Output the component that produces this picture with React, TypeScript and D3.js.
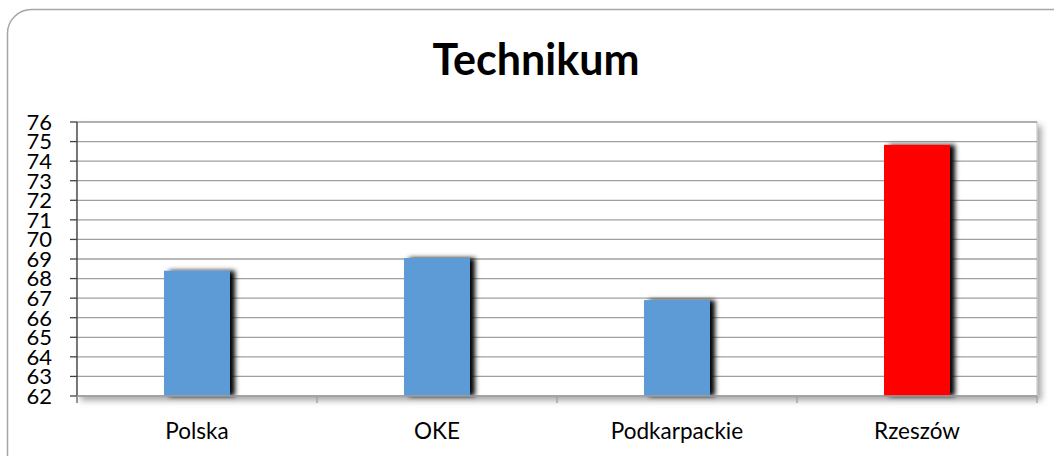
import React from "react";
import * as d3 from "d3";

const categories = ["Polska", "OKE", "Podkarpackie", "Rzeszów"];
const values = [68.4, 69.05, 66.9, 74.83];
const barColors = ["#5b9bd5", "#5b9bd5", "#5b9bd5", "#ff0000"];
const yTicks = [62, 63, 64, 65, 66, 67, 68, 69, 70, 71, 72, 73, 74, 75, 76];
const title = "Technikum";

const W = 1054;
const H = 456;
const plot = { left: 77, right: 1037, top: 122, bottom: 396 };

export default function App() {
  const x = d3
    .scaleBand<string>()
    .domain(categories)
    .range([plot.left, plot.right])
    .paddingInner(0)
    .paddingOuter(0);
  const y = d3.scaleLinear().domain([62, 76]).range([plot.bottom, plot.top]);
  const barW = x.bandwidth() * 0.275;
  const font = "Lato, 'Open Sans', sans-serif";
  const boundaries = [...categories.map((c) => x(c) as number), plot.right];

  return (
    <svg
      width={W}
      height={H}
      style={{ position: "absolute", left: 0, top: 0, display: "block" }}
    >
      <defs>
        <filter id="barShadow" x="-30%" y="-10%" width="160%" height="120%">
          <feDropShadow dx="5" dy="0" stdDeviation="2.5" floodColor="#000" floodOpacity="1" />
        </filter>
        <filter id="plotShadow" x="-5%" y="-5%" width="110%" height="115%">
          <feDropShadow dx="4" dy="4" stdDeviation="3" floodColor="#000" floodOpacity="0.35" />
        </filter>
      </defs>
      <rect x={0} y={0} width={W} height={H} fill="#fff" />
      <rect
        x={7.5}
        y={9.5}
        width={1070}
        height={470}
        rx={24}
        ry={24}
        fill="#fff"
        stroke="#a6a6a6"
        strokeWidth={1.5}
      />
      <text
        x={536}
        y={75}
        textAnchor="middle"
        fontFamily={font}
        fontWeight="bold"
        fontSize={43}
        fill="#000"
      >
        {title}
      </text>
      {/* plot area */}
      <rect
        x={plot.left}
        y={plot.top}
        width={plot.right - plot.left}
        height={plot.bottom - plot.top}
        fill="#fff"
        stroke="#bfbfbf"
        strokeWidth={1}
        filter="url(#plotShadow)"
      />
      {yTicks.map((t) => (
        <line
          key={"g" + t}
          x1={plot.left}
          x2={plot.right}
          y1={y(t)}
          y2={y(t)}
          stroke="#a0a0a0"
          strokeWidth={1.3}
        />
      ))}
      {/* bars */}
      {categories.map((c, i) => {
        const cx = (x(c) as number) + x.bandwidth() / 2;
        return (
          <rect
            key={c}
            x={cx - barW / 2}
            y={y(values[i])}
            width={barW}
            height={plot.bottom - y(values[i])}
            fill={barColors[i]}
            filter="url(#barShadow)"
          />
        );
      })}
      {/* y axis */}
      <line x1={plot.left} x2={plot.left} y1={plot.top} y2={plot.bottom + 7} stroke="#404040" strokeWidth={1.3} />
      {yTicks.map((t) => (
        <g key={"t" + t}>
          <line x1={plot.left - 7} x2={plot.left} y1={y(t)} y2={y(t)} stroke="#404040" strokeWidth={1.3} />
          <text
            x={52}
            y={y(t)}
            dy="0.36em"
            textAnchor="end"
            fontFamily={font}
            fontSize={22}
            fill="#000"
          >
            {t}
          </text>
        </g>
      ))}
      {/* x axis */}
      <line x1={plot.left} x2={plot.right} y1={plot.bottom} y2={plot.bottom} stroke="#a0a0a0" strokeWidth={1.5} />
      {boundaries.map((b, i) => (
        <line key={"xb" + i} x1={b} x2={b} y1={plot.bottom} y2={plot.bottom + 7} stroke="#a0a0a0" strokeWidth={1.3} />
      ))}
      {categories.map((c) => (
        <text
          key={"l" + c}
          x={(x(c) as number) + x.bandwidth() / 2}
          y={439}
          textAnchor="middle"
          fontFamily={font}
          fontSize={22.5}
          fill="#000"
        >
          {c}
        </text>
      ))}
    </svg>
  );
}
